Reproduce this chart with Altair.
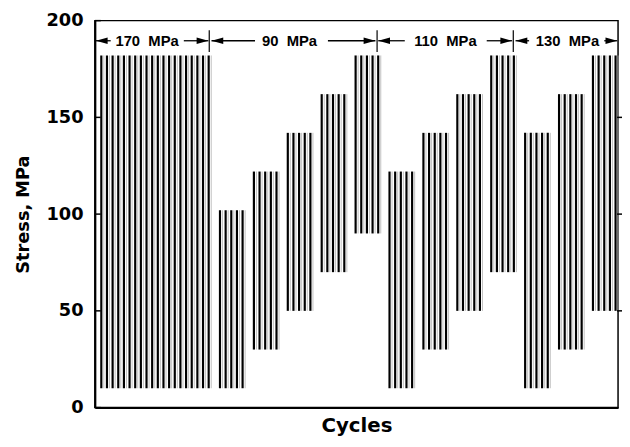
import altair as alt
import pandas as pd

# ---- data ----
# each loading sub-block: first cycle index, number of cycles, min and max stress (MPa)
sub_start = [0, 21, 27, 33, 39, 45, 51, 57, 63, 69, 75, 81, 87]
sub_count = [20, 5, 5, 5, 5, 5, 5, 5, 5, 5, 5, 5, 5]
sub_min = [10, 10, 30, 50, 70, 90, 10, 30, 50, 70, 10, 30, 50]
sub_max = [182, 102, 122, 142, 162, 182, 122, 142, 162, 182, 142, 162, 182]

# block annotations (x in cycle units)
block_labels = ["170\u00a0\u00a0MPa", "90\u00a0\u00a0MPa", "110\u00a0\u00a0MPa", "130\u00a0\u00a0MPa"]
label_x = [8.1, 33.3, 60.9, 82.5]
left_tip = [-0.96, 19.5, 49.0, 73.3]
left_tail = [1.66, 27.2, 53.7, 75.7]
right_tail = [14.6, 40.1, 68.2, 89.0]
right_tip = [18.95, 48.5, 72.7, 91.3]
separators = [19.1, 48.8, 72.9]
annot_y = 189.6
sep_top = 195.0
sep_bottom = 183.8

y_ticks = [0, 50, 100, 150, 200]
right_ticks = [50, 100, 150]

x_domain = [-1.14, 91.44]
W, H = 530, 392

rows = []
for s, n, lo, hi in zip(sub_start, sub_count, sub_min, sub_max):
    for k in range(n):
        rows.append({"cycle": s + k, "lo": lo, "hi": hi})
cycles = pd.DataFrame(rows)

xs = alt.Scale(domain=x_domain, nice=False, zero=False)
ys = alt.Scale(domain=[0, 200], nice=False)

x_enc = alt.X("cycle:Q", scale=xs,
              axis=alt.Axis(values=[], title="Cycles", titleFont="DejaVu Sans",
                            titleFontSize=20, titleFontWeight="bold", titleColor="black",
                            titlePadding=8, domainColor="black", domainWidth=2,
                            ticks=False, labels=False, grid=False))
y_enc = alt.Y("lo:Q", scale=ys,
              axis=alt.Axis(values=y_ticks, title="Stress, MPa", titleFont="DejaVu Sans",
                            titleFontSize=18, titleFontWeight="bold", titleColor="black",
                            titlePadding=14, labelFont="DejaVu Sans", labelFontSize=18,
                            labelFontWeight="bold", labelColor="black", labelPadding=12,
                            tickSize=0, domainColor="black", domainWidth=2, grid=False))

spikes_gray = alt.Chart(cycles).transform_calculate(c2="datum.cycle + 0.45").mark_rule(
    color="#b0b0b0", strokeWidth=0.8).encode(
    x=alt.X("c2:Q", scale=xs), y=alt.Y("lo:Q", scale=ys), y2="hi:Q")

spikes = alt.Chart(cycles).mark_rule(color="black", strokeWidth=2.2).encode(
    x=x_enc, y=y_enc, y2="hi:Q")

tick_df = pd.DataFrame({"v": y_ticks})
left_ticks = alt.Chart(tick_df).mark_rule(color="black", strokeWidth=1.5).encode(
    y=alt.Y("v:Q", scale=ys), x=alt.value(0), x2=alt.value(6))
rt_df = pd.DataFrame({"v": right_ticks})
r_ticks = alt.Chart(rt_df).mark_rule(color="black", strokeWidth=1.5).encode(
    y=alt.Y("v:Q", scale=ys), x=alt.value(W - 1), x2=alt.value(W + 4))

ann = pd.DataFrame({"label": block_labels, "lx": label_x,
                    "lt": left_tip, "ll": left_tail, "rl": right_tail, "rt": right_tip,
                    "y": [annot_y] * 4})
texts = alt.Chart(ann).mark_text(font="Liberation Sans", fontSize=15, fontWeight="bold",
                                 color="black", baseline="middle").encode(
    x=alt.X("lx:Q", scale=xs), y=alt.Y("y:Q", scale=ys), text="label:N")
larr = alt.Chart(ann).mark_rule(color="black", strokeWidth=1.3).encode(
    x=alt.X("lt:Q", scale=xs), x2="ll:Q", y=alt.Y("y:Q", scale=ys))
rarr = alt.Chart(ann).mark_rule(color="black", strokeWidth=1.3).encode(
    x=alt.X("rl:Q", scale=xs), x2="rt:Q", y=alt.Y("y:Q", scale=ys))
lhead = alt.Chart(ann).mark_point(shape="M-1,0 L1,-0.55 L1,0.55 Z", filled=True,
                                  color="black", opacity=1, size=140, xOffset=6).encode(
    x=alt.X("lt:Q", scale=xs), y=alt.Y("y:Q", scale=ys))
rhead = alt.Chart(ann).mark_point(shape="M1,0 L-1,-0.55 L-1,0.55 Z", filled=True,
                                  color="black", opacity=1, size=140, xOffset=-6).encode(
    x=alt.X("rt:Q", scale=xs), y=alt.Y("y:Q", scale=ys))
sep_df = pd.DataFrame({"x": separators, "y1": [sep_bottom] * 3, "y2": [sep_top] * 3})
seps = alt.Chart(sep_df).mark_rule(color="black", strokeWidth=1.2).encode(
    x=alt.X("x:Q", scale=xs), y=alt.Y("y1:Q", scale=ys), y2="y2:Q")

chart = alt.layer(spikes, spikes_gray, left_ticks, r_ticks, larr, rarr, lhead, rhead,
                  seps, texts).properties(
    width=W, height=H,
    autosize=alt.AutoSizeParams(type="none"),
    padding={"left": 88, "top": 10, "right": 4, "bottom": 27},
    background="white",
).configure_view(stroke="black", strokeWidth=1.5)

chart.save("out.html", embed_options={"renderer": "svg", "actions": False})
